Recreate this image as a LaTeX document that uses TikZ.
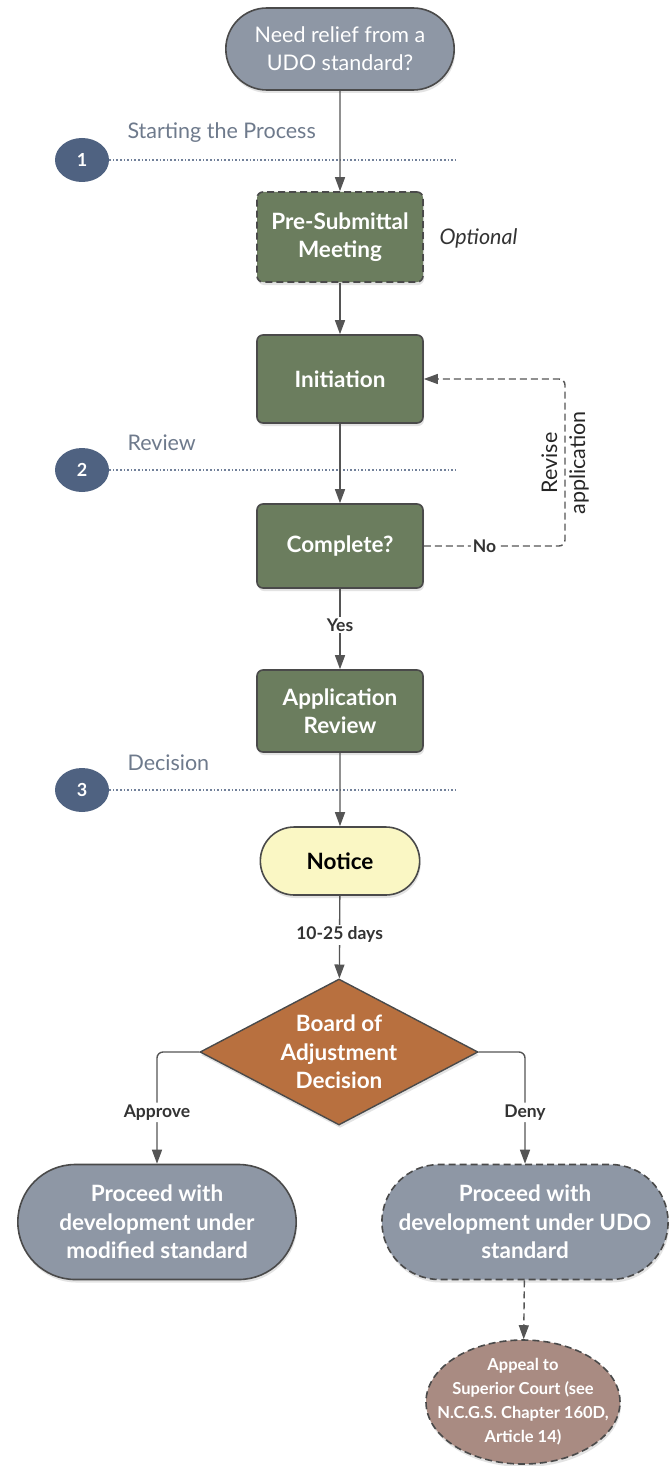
\documentclass[tikz,border=0pt]{standalone}
\usepackage{fontspec}
\setmainfont{Lato}
\usetikzlibrary{positioning,shapes.misc,shapes.geometric,arrows.meta,shadows}

\definecolor{termgray}{HTML}{8E97A5}
\definecolor{edgegray}{HTML}{4A4A4A}
\definecolor{linegray}{HTML}{555555}
\definecolor{stepgreen}{HTML}{6B7D5E}
\definecolor{boardorange}{HTML}{B8703F}
\definecolor{noticeyellow}{HTML}{FAF7C4}
\definecolor{phaseblue}{HTML}{4F6281}
\definecolor{phasetext}{HTML}{6E7A8C}
\definecolor{appealrose}{HTML}{A98B82}

\newcommand{\bigfont}{\fontsize{21.5}{28}\selectfont}
\newcommand{\boxfont}{\fontsize{22.5}{28.5}\selectfont\bfseries}
\newcommand{\smallfont}{\fontsize{17.5}{20}\selectfont\bfseries}

\begin{document}
\begin{tikzpicture}[x=1pt, y=-1pt, >={Triangle[length=14pt,width=10pt]},
  softshadow/.style={drop shadow={shadow xshift=1pt, shadow yshift=-3pt, opacity=0.22}},
  dashline/.style={dash pattern=on 7pt off 4pt},
  terminal/.style={rounded rectangle, draw=edgegray, line width=1.6pt, fill=termgray,
    text=white, align=center, softshadow},
  stepbox/.style={rectangle, rounded corners=6pt, draw=edgegray, line width=1.6pt,
    fill=stepgreen, text=white, font=\boxfont, align=center,
    minimum width=166pt, softshadow},
  phase/.style={ellipse, fill=phaseblue, text=white, font=\fontsize{18}{20}\selectfont\bfseries,
    minimum width=54pt, minimum height=44pt, inner sep=0pt},
  phaseline/.style={phaseblue!80, line width=1.6pt, dotted},
  phaselabel/.style={anchor=west, text=phasetext, font=\bigfont},
  flow/.style={->, draw=linegray, line width=1.4pt},
  edgelabel/.style={fill=white, text=black!80, font=\smallfont, inner sep=2pt}
]
  % page
  \fill[white] (0,0) rectangle (671,1466);

  % main column
  \node[terminal, font=\bigfont, minimum width=235pt, minimum height=82pt]
    (start) at (340,49) {Need relief from a\\UDO standard?};
  \node[stepbox, dashline, minimum height=90pt] (presub) at (340,237) {Pre-Submittal\\Meeting};
  \node[anchor=west, font=\bigfont\itshape, text=black!80] (optional) at (436,238) {Optional};
  \node[stepbox, minimum height=88pt] (init) at (340,379) {Initiation};
  \node[stepbox, minimum height=84pt] (complete) at (340,546) {Complete?};
  \node[stepbox, minimum height=82pt] (appreview) at (340,711) {Application\\Review};
  \node[terminal, fill=noticeyellow, text=black, font=\boxfont,
    minimum width=166pt, minimum height=68pt] (notice) at (340,861) {Notice};
  \node[diamond, aspect=2, draw=edgegray, line width=1.4pt, fill=boardorange, text=white,
    font=\boxfont, align=center, inner sep=0pt, minimum width=278pt,
    minimum height=146pt, softshadow] (board) at (339,1052) {Board of\\Adjustment\\Decision};

  % outcomes
  \node[terminal, font=\boxfont, minimum width=285pt, minimum height=115pt]
    (approve) at (157,1222) {Proceed with\\development under\\modified standard};
  \node[terminal, dashline, font=\boxfont, minimum width=285pt, minimum height=115pt]
    (deny) at (525,1222) {Proceed with\\development under UDO\\standard};
  \node[ellipse, draw=edgegray, dashline, line width=1.6pt, fill=appealrose,
    minimum width=194pt, minimum height=124pt, softshadow,
    label={[text=white, align=center, font=\fontsize{16.5}{24}\selectfont\bfseries]center:Appeal to\\Superior Court (see\\N.C.G.S. Chapter 160D,\\Article 14)}]
    (appeal) at (523,1402) {};

  % phases
  \foreach \n/\y/\txt in {1/160/Starting the Process, 2/470/Review, 3/790/Decision} {
    \node[phase] (phase\n) at (82,\y) {\n};
    \draw[phaseline] (phase\n.east) -- (458,\y);
    \node[phaselabel] at (124,\y-27) {\txt};
  }

  % connectors
  \draw[flow] (start) -- (presub);
  \draw[flow] (presub) -- (init);
  \draw[flow] (init) -- (complete);
  \draw[flow] (complete) -- node[edgelabel, pos=0.45] {Yes} (appreview);
  \draw[flow] (appreview) -- (notice);
  \draw[flow] (notice) -- node[edgelabel, pos=0.47] {10-25 days} (board);
  \draw[flow, rounded corners=6pt] (board.west) -| node[edgelabel, pos=0.77] {Approve} (approve.north);
  \draw[flow, rounded corners=6pt] (board.east) -| node[edgelabel, pos=0.77] {Deny} (deny.north);
  \draw[flow, dashline] (deny) -- (appeal);

  % revise loop
  \coordinate (loop) at (565,463);
  \draw[flow, dashline, rounded corners=6pt] (complete.east)
    -- node[edgelabel, pos=0.43] {No} (complete.east -| loop)
    -- (init.east -| loop) -- (init.east);
  \node[rotate=90, align=center, font=\bigfont, text=black!85] (revise) at (loop) {Revise\\application};
\end{tikzpicture}
\end{document}
